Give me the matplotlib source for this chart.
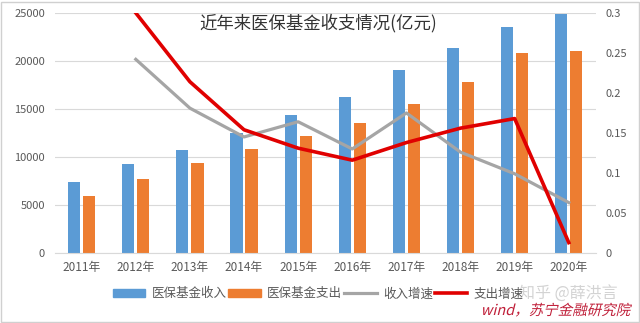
import matplotlib
matplotlib.use("Agg")
import matplotlib.pyplot as plt
from matplotlib.patches import Patch, Rectangle, PathPatch
from matplotlib.lines import Line2D
from matplotlib.textpath import TextPath
from matplotlib.font_manager import FontProperties
from matplotlib.transforms import Affine2D

plt.rcParams['font.family'] = ['Noto Sans CJK SC', 'DejaVu Sans']

years = ["2011年", "2012年", "2013年", "2014年", "2015年",
         "2016年", "2017年", "2018年", "2019年", "2020年"]
income = [7400, 9240, 10730, 12470, 14380, 16280, 19060, 21390, 23510, 24900]
expense = [5970, 7700, 9340, 10800, 12220, 13570, 15520, 17840, 20800, 21070]
income_growth = [None, 0.242, 0.181, 0.145, 0.164, 0.130, 0.175, 0.126, 0.099, 0.063]
expense_growth = [None, 0.300, 0.214, 0.154, 0.131, 0.116, 0.138, 0.156, 0.168, 0.013]

BLUE = "#5B9BD5"
ORANGE = "#ED7D31"
GRAY = "#A5A5A5"
RED = "#E00000"
TXT = "#595959"

fig = plt.figure(figsize=(6.4, 3.23), dpi=100)
ax = fig.add_axes([0.0853, 0.2167, 0.8457, 0.7433])
ax2 = ax.twinx()

x = list(range(len(years)))
w = 0.225
off = 0.139
ax.bar([i - off for i in x], income, width=w, color=BLUE, zorder=2)
ax.bar([i + off for i in x], expense, width=w, color=ORANGE, zorder=2)

xs = [i for i, v in zip(x, income_growth) if v is not None]
ax2.plot(xs, [v for v in income_growth if v is not None], color=GRAY, lw=2.3,
         solid_joinstyle='round')
ax2.plot(xs, [v for v in expense_growth if v is not None], color=RED, lw=2.6,
         solid_joinstyle='round')

ax.set_xlim(-0.5, len(years) - 0.5)
ax.set_ylim(0, 25000)
ax.set_yticks(range(0, 25001, 5000))
ax2.set_ylim(0, 0.3)
ax2.set_yticks([0, 0.05, 0.1, 0.15, 0.2, 0.25, 0.3])
ax2.set_yticklabels(["0", "0.05", "0.1", "0.15", "0.2", "0.25", "0.3"])

ax.set_xticks(x)
ax.set_xticklabels(years)
ax.grid(axis='y', color="#D9D9D9", lw=0.8, zorder=0)
ax.set_axisbelow(True)
for a in (ax, ax2):
    for s in a.spines.values():
        s.set_visible(False)
ax.spines['bottom'].set_visible(True)
ax.spines['bottom'].set_color("#D9D9D9")
ax.tick_params(axis='both', length=0, colors=TXT, labelsize=8)
ax.tick_params(axis='x', pad=6, labelsize=8.5)
ax.tick_params(axis='y', pad=7)
ax2.tick_params(axis='y', length=0, colors=TXT, labelsize=8, pad=7)

ax.text(0.487, 0.995, "近年来医保基金收支情况(亿元)", transform=ax.transAxes,
        ha='center', va='top', fontsize=12.5, color="#333333")

handles = [Patch(color=BLUE), Patch(color=ORANGE),
           Line2D([], [], color=GRAY, lw=2.3), Line2D([], [], color=RED, lw=2.6)]
labels = ["医保基金收入", "医保基金支出", "收入增速", "支出增速"]
fig.legend(handles, labels, loc='center', bbox_to_anchor=(0.497, 0.09), ncol=4,
           frameon=False, fontsize=9, handlelength=2.6, handleheight=0.7,
           handletextpad=0.5, columnspacing=0.15, labelcolor=TXT)

fig.text(0.888, 0.093, "知乎 @薛洪言", ha='center', va='center', fontsize=11.5,
         color="#C8C8C8", alpha=0.8)

# slanted source note (skewed text outline, since the CJK font has no italic)
src = TextPath((0, 0), "wind，苏宁金融研究院", size=14.5,
               prop=FontProperties(family='Noto Sans CJK SC'))
bb = src.get_extents()
slant = Affine2D().skew_deg(14, 0).translate(555 - bb.width / 2, 8)
fig.patches.append(PathPatch(src, transform=slant, facecolor="#C0203A",
                             edgecolor='none'))

fig.patches.append(Rectangle((0.002, 0.004), 0.996, 0.99, transform=fig.transFigure,
                             fill=False, edgecolor="#D0D0D0", lw=1))

fig.savefig("out.png", dpi=100)
